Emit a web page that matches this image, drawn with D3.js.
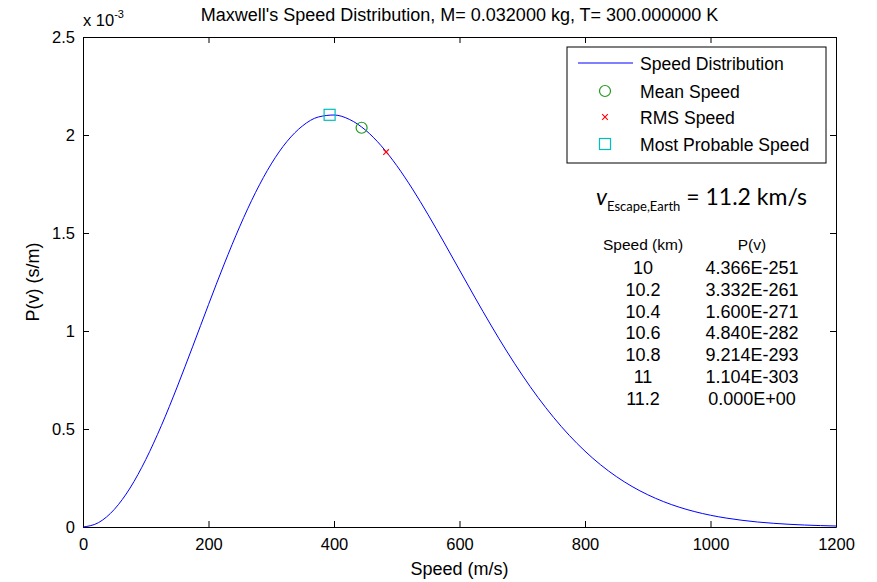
<!DOCTYPE html>
<html>
<head>
	<meta charset="utf-8">
	<title>Maxwell's Speed Distribution</title>
	<script src="https://d3js.org/d3.v7.min.js"></script>
	<style>
		body { margin: 0; background: #fff; }
		text { font-family: "Liberation Sans", Arial, sans-serif; }
	</style>
</head>
<body>
	<div class="chart"></div>

	<script type="text/javascript">

		// speed (m/s) and P(v) in units of 1e-3 s/m
		const speeds = [0, 25, 50, 75, 100, 125, 150, 175, 200, 225, 250, 275, 300, 325, 350, 375, 400,
			425, 450, 475, 500, 525, 550, 575, 600, 625, 650, 675, 700, 725, 750, 775, 800,
			825, 850, 875, 900, 925, 950, 975, 1000, 1025, 1050, 1075, 1100, 1125, 1150, 1175, 1200]
		const probs = [0, 0.0228, 0.0902, 0.1989, 0.3439, 0.5182, 0.7141, 0.9226, 1.1347, 1.3414, 1.5346, 1.7070, 1.8525, 1.9668, 2.0469, 2.0919, 2.1020,
			2.0789, 2.0256, 1.9457, 1.8438, 1.7248, 1.5931, 1.4537, 1.3110, 1.1688, 1.0303, 0.8982, 0.7750, 0.6614, 0.5589, 0.4673, 0.3868,
			0.3169, 0.2572, 0.2067, 0.1645, 0.1297, 0.1012, 0.0783, 0.0600, 0.0456, 0.0343, 0.0255, 0.0189, 0.0138, 0.0100, 0.0072, 0.0051]

		// special speeds: [speed, P(v)]
		const mostProbable = [393, 2.103]
		const meanSpeed = [444, 2.037]
		const rmsSpeed = [483, 1.913]

		const xTicks = [0, 200, 400, 600, 800, 1000, 1200]
		const yTicks = [0, 0.5, 1, 1.5, 2, 2.5]

		// escape speed table
		const tableSpeeds = ['10', '10.2', '10.4', '10.6', '10.8', '11', '11.2']
		const tableProbs = ['4.366E-251', '3.332E-261', '1.600E-271', '4.840E-282', '9.214E-293', '1.104E-303', '0.000E+00']

		const legendItems = ['Speed Distribution', 'Mean Speed', 'RMS Speed', 'Most Probable Speed']

		const width = 877
		const height = 582
		const pLeft = 83, pRight = 836, pTop = 37, pBottom = 527

		const svg = d3
			.select('.chart')
			.append('svg')
			.attr('width', width)
			.attr('height', height)

		const x = d3.scaleLinear().domain([0, 1200]).range([pLeft, pRight])
		const y = d3.scaleLinear().domain([0, 2.5]).range([pBottom, pTop])

		// axes (box with inward ticks on all four sides)
		const tl = 6
		svg.append('g')
			.attr('transform', `translate(0, ${pBottom})`)
			.call(d3.axisBottom(x).tickValues(xTicks).tickSizeInner(-tl).tickSizeOuter(0).tickPadding(11).tickFormat(d3.format('')))
		svg.append('g')
			.attr('transform', `translate(0, ${pTop})`)
			.call(d3.axisTop(x).tickValues(xTicks).tickSizeInner(-tl).tickSizeOuter(0).tickFormat(''))
		svg.append('g')
			.attr('transform', `translate(${pLeft}, 0)`)
			.call(d3.axisLeft(y).tickValues(yTicks).tickSizeInner(-tl).tickSizeOuter(0).tickPadding(8).tickFormat(d3.format('')))
		svg.append('g')
			.attr('transform', `translate(${pRight}, 0)`)
			.call(d3.axisRight(y).tickValues(yTicks).tickSizeInner(-tl).tickSizeOuter(0).tickFormat(''))

		svg.selectAll('.domain').attr('stroke', '#000').attr('stroke-width', 1)
		svg.selectAll('.tick line').attr('stroke', '#000')
		svg.selectAll('.tick text').style('font-size', '16.5px').attr('fill', '#000')

		// labels
		svg.append('text')
			.attr('x', (pLeft + pRight) / 2).attr('y', 21)
			.attr('text-anchor', 'middle')
			.style('font-size', '18px')
			.text("Maxwell's Speed Distribution, M= 0.032000 kg, T= 300.000000 K")

		const exp = svg.append('text').attr('x', 83).attr('y', 26).style('font-size', '16.5px')
		exp.append('tspan').text('x 10')
		exp.append('tspan').attr('dy', -8).style('font-size', '11px').text('-3')

		svg.append('text')
			.attr('x', (pLeft + pRight) / 2).attr('y', 575)
			.attr('text-anchor', 'middle')
			.style('font-size', '18px')
			.text('Speed (m/s)')

		svg.append('text')
			.attr('transform', `translate(39, ${(pTop + pBottom) / 2}) rotate(-90)`)
			.attr('text-anchor', 'middle')
			.style('font-size', '18px')
			.text('P(v) (s/m)')

		// curve
		const line = d3.line()
			.x((d, i) => x(speeds[i]))
			.y((d) => y(d))
			.curve(d3.curveMonotoneX)

		svg.append('path')
			.attr('d', line(probs))
			.attr('fill', 'none')
			.attr('stroke', '#0000ff')
			.attr('stroke-width', 1)

		// markers
		function drawSquare(g, cx, cy) {
			g.append('rect').attr('x', cx - 5.5).attr('y', cy - 5.5).attr('width', 11).attr('height', 11)
				.attr('fill', 'none').attr('stroke', '#00bfbf').attr('stroke-width', 1.2)
		}
		function drawCircle(g, cx, cy) {
			g.append('circle').attr('cx', cx).attr('cy', cy).attr('r', 5.5)
				.attr('fill', 'none').attr('stroke', '#1f9a1f').attr('stroke-width', 1.2)
		}
		function drawCross(g, cx, cy) {
			g.append('path').attr('d', `M${cx - 2.8},${cy - 2.8}L${cx + 2.8},${cy + 2.8}M${cx - 2.8},${cy + 2.8}L${cx + 2.8},${cy - 2.8}`)
				.attr('stroke', '#ff0000').attr('stroke-width', 1.1)
		}

		drawSquare(svg, x(mostProbable[0]), y(mostProbable[1]))
		drawCircle(svg, x(meanSpeed[0]), y(meanSpeed[1]))
		drawCross(svg, x(rmsSpeed[0]), y(rmsSpeed[1]))

		// legend
		const lg = svg.append('g').attr('transform', 'translate(567, 47)')
		lg.append('rect').attr('width', 259).attr('height', 116)
			.attr('fill', '#fff').attr('stroke', '#000').attr('stroke-width', 1)
		const rowY = [16, 44, 70, 97]
		legendItems.forEach((t, i) => {
			lg.append('text').attr('x', 73).attr('y', rowY[i] + 7).style('font-size', '17.6px').text(t)
		})
		lg.append('line').attr('x1', 11).attr('x2', 66).attr('y1', rowY[0]).attr('y2', rowY[0])
			.attr('stroke', '#0000ff').attr('stroke-width', 1)
		drawCircle(lg, 38, rowY[1])
		drawCross(lg, 38, rowY[2])
		drawSquare(lg, 38, rowY[3])

		// escape velocity annotation
		const esc = svg.append('text').attr('x', 596).attr('y', 205)
			.style('font-family', 'Lato, "Open Sans", sans-serif').style('font-size', '23px')
		esc.append('tspan').style('font-style', 'italic').text('v')
		esc.append('tspan').attr('dy', 6).style('font-size', '13px').text('Escape,Earth')
		esc.append('tspan').attr('dy', -6).text(' = 11.2 km/s')

		const tbl = svg.append('g').style('font-family', 'Lato, "Open Sans", sans-serif')
		tbl.append('text').attr('x', 643).attr('y', 250).attr('text-anchor', 'middle').style('font-size', '15.5px').text('Speed (km)')
		tbl.append('text').attr('x', 752).attr('y', 250).attr('text-anchor', 'middle').style('font-size', '15.5px').text('P(v)')
		tableSpeeds.forEach((s, i) => {
			const ty = 274 + i * 21.8
			tbl.append('text').attr('x', 643).attr('y', ty).attr('text-anchor', 'middle').style('font-size', '18px').text(s)
			tbl.append('text').attr('x', 752).attr('y', ty).attr('text-anchor', 'middle').style('font-size', '18px').text(tableProbs[i])
		})

	</script>
</body>
</html>
